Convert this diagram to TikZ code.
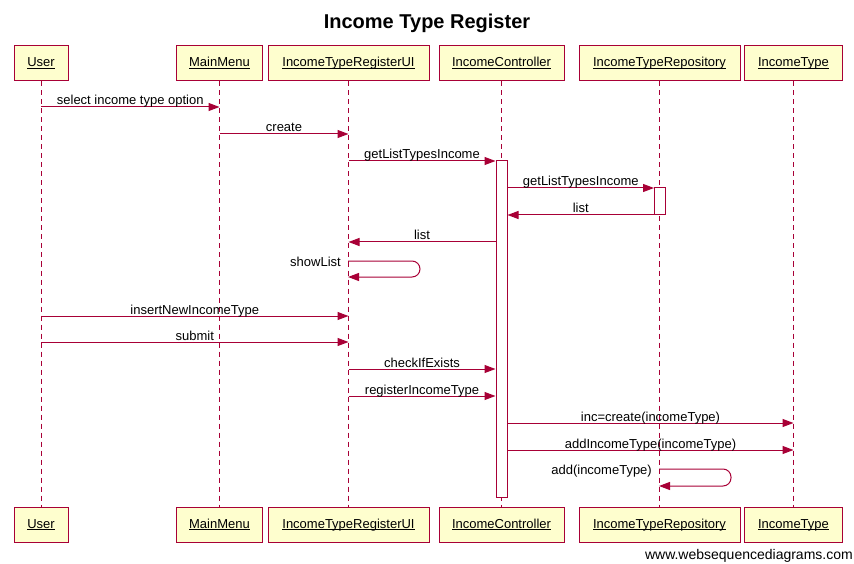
\documentclass[tikz,border=0pt]{standalone}
\usepackage{fontspec}
\setmainfont{Liberation Sans}
\usetikzlibrary{arrows.meta}
\definecolor{wsdred}{HTML}{A80036}
\definecolor{wsdfill}{HTML}{FEFECE}
\newcommand\partul[1]{\setbox0\hbox{#1}\rlap{\rule[-1.8pt]{\wd0}{0.9pt}}\box0}
\begin{document}
\begin{tikzpicture}[x=1pt,y=-1pt,
  part/.style={draw=wsdred, fill=wsdfill, line width=1pt, minimum height=35pt, inner sep=0pt, text height=10pt, text depth=3pt, font=\fontsize{13}{15}\selectfont},
  life/.style={draw=wsdred, line width=1pt, dash pattern=on 5pt off 4pt},
  actbox/.style={draw=wsdred, fill=white, line width=1pt, inner sep=0pt, minimum width=11pt},
  msg/.style={draw=wsdred, line width=1pt, -{Triangle[length=11pt,width=8pt]}},
  loopmsg/.style={msg, rounded corners=8pt},
  lbl/.style={midway, anchor=base, yshift=2pt, inner sep=0pt, font=\fontsize{13}{15}\selectfont},
  slbl/.style={anchor=base east, inner sep=0pt, font=\fontsize{13}{15}\selectfont}]
\useasboundingbox (0,0) rectangle (854,564);
\node[font=\bfseries\fontsize{20}{24}\selectfont] (title) at (427,23) {Income Type Register};
% participants top
\node[part, minimum width=54pt] (user) at (41,63.5) {\partul{User}};
\node[part, minimum width=86pt] (menu) at (219.5,63.5) {\partul{MainMenu}};
\node[part, minimum width=161pt] (ui) at (348.5,63.5) {\partul{IncomeTypeRegisterUI}};
\node[part, minimum width=125pt] (ctrl) at (501.5,63.5) {\partul{IncomeController}};
\node[part, minimum width=161pt] (repo) at (659.5,63.5) {\partul{IncomeTypeRepository}};
\node[part, minimum width=98pt] (it) at (793.5,63.5) {\partul{IncomeType}};
% participants bottom
\node[part, minimum width=54pt] (userB) at (41,524.5) {\partul{User}};
\node[part, minimum width=86pt] (menuB) at (219.5,524.5) {\partul{MainMenu}};
\node[part, minimum width=161pt] (uiB) at (348.5,524.5) {\partul{IncomeTypeRegisterUI}};
\node[part, minimum width=125pt] (ctrlB) at (501.5,524.5) {\partul{IncomeController}};
\node[part, minimum width=161pt] (repoB) at (659.5,524.5) {\partul{IncomeTypeRepository}};
\node[part, minimum width=98pt] (itB) at (793.5,524.5) {\partul{IncomeType}};
% lifelines
\draw[life] (user) -- (userB);
\draw[life] (menu) -- (menuB);
\draw[life] (ui) -- (uiB);
\draw[life] (ctrl) -- (ctrlB);
\draw[life] (repo) -- (repoB);
\draw[life] (it) -- (itB);
% activation boxes
\node[actbox, minimum height=336pt] (actC) at (501.5,329) {};
\node[actbox, minimum height=27pt] (actR) at (660,201.5) {};
% y levels
\coordinate (y1) at (0,107);
\coordinate (y2) at (0,134);
\coordinate (y3) at (0,161);
\coordinate (y4) at (0,188);
\coordinate (y5) at (0,215);
\coordinate (y6) at (0,242);
\coordinate (y7) at (0,316);
\coordinate (y8) at (0,342);
\coordinate (y9) at (0,369);
\coordinate (y10) at (0,396);
\coordinate (y11) at (0,423);
\coordinate (y12) at (0,450);
% messages
\draw[msg] (user |- y1) -- node[lbl]{select income type option} (menu |- y1);
\draw[msg] (menu |- y2) -- node[lbl]{create} (ui |- y2);
\draw[msg] (ui |- y3) -- node[lbl]{getListTypesIncome} (actC.west |- y3);
\draw[msg] (actC.east |- y4) -- node[lbl]{getListTypesIncome} (actR.west |- y4);
\draw[msg] (actR.west |- y5) -- node[lbl]{list} (actC.east |- y5);
\draw[msg] (actC.west |- y6) -- node[lbl]{list} (ui |- y6);
% showList self loop
\coordinate (sl1) at (348,261);
\coordinate (sl2) at (420,261);
\coordinate (sl3) at (420,277);
\coordinate (sl4) at (348,277);
\draw[loopmsg] (sl1) -- (sl2) -- (sl3) -- (sl4);
\node[slbl] (slt) at (341,266) {showList};
\draw[msg] (user |- y7) -- node[lbl]{insertNewIncomeType} (ui |- y7);
\draw[msg] (user |- y8) -- node[lbl]{submit} (ui |- y8);
\draw[msg] (ui |- y9) -- node[lbl]{checkIfExists} (actC.west |- y9);
\draw[msg] (ui |- y10) -- node[lbl]{registerIncomeType} (actC.west |- y10);
\draw[msg] (actC.east |- y11) -- node[lbl]{inc=create(incomeType)} (it |- y11);
\draw[msg] (actC.east |- y12) -- node[lbl]{addIncomeType(incomeType)} (it |- y12);
% add self loop
\coordinate (al1) at (659,469);
\coordinate (al2) at (731,469);
\coordinate (al3) at (731,486);
\coordinate (al4) at (659,486);
\draw[loopmsg] (al1) -- (al2) -- (al3) -- (al4);
\node[slbl] (alt) at (652,474) {add(incomeType)};
% footer
\node[anchor=east, inner sep=0pt, font=\fontsize{14}{16}\selectfont] (foot) at (853,556) {www.websequencediagrams.com};
\end{tikzpicture}
\end{document}
